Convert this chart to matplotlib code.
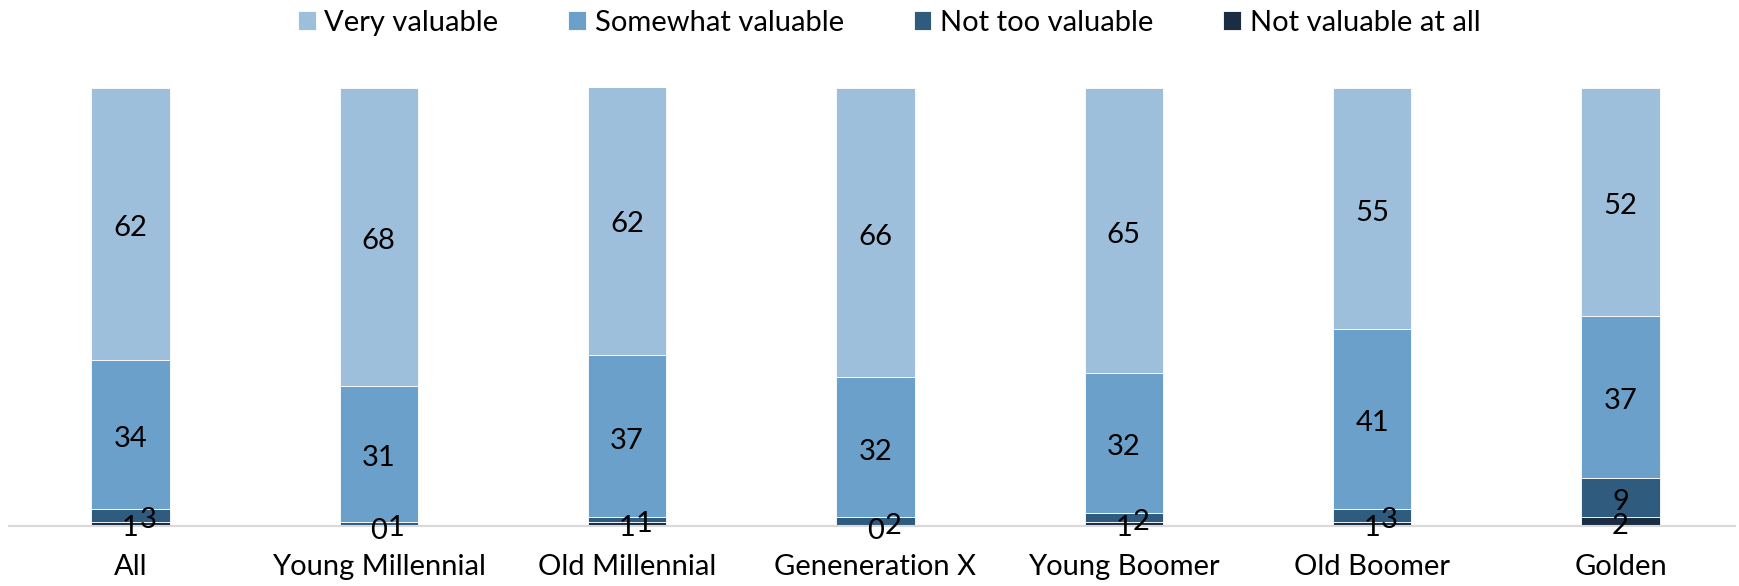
import matplotlib.pyplot as plt
import numpy as np

plt.rcParams['font.family'] = ['Lato', 'DejaVu Sans']

groups = ["All", "Young Millennial", "Old Millennial", "Geneneration X",
          "Young Boomer", "Old Boomer", "Golden"]
not_at_all = [1, 0, 1, 0, 1, 1, 2]
not_too = [3, 1, 1, 2, 2, 3, 9]
somewhat = [34, 31, 37, 32, 32, 41, 37]
very = [62, 68, 62, 66, 65, 55, 52]

series = [
    ("Not valuable at all", not_at_all, "#1B2D42"),
    ("Not too valuable", not_too, "#2F5B7E"),
    ("Somewhat valuable", somewhat, "#6AA0CA"),
    ("Very valuable", very, "#9DBFDC"),
]

fig = plt.figure(figsize=(17.4, 5.86), dpi=100)
ax = fig.add_axes([0.005, 0.102, 0.992, 0.748])

x = np.arange(len(groups))
bottom = np.zeros(len(groups))
bars = {}
for name, vals, col in series:
    vals = np.array(vals, dtype=float)
    bars[name] = ax.bar(x, vals, 0.316, bottom=bottom, color=col,
                        edgecolor="white", linewidth=0.6, label=name)
    for i, v in enumerate(vals):
        yc = bottom[i] + v / 2 - 1.0
        dx = 0
        # small stacked segments: push the upper label right, like Excel does
        if name == "Not too valuable" and v < 5:
            dx = 0.07
        ax.text(x[i] + dx, yc, f"{int(v)}", ha="center", va="center",
                fontsize=21, color="black")
    bottom += vals

ax.set_xlim(-0.49, 6.46)
ax.set_ylim(0, 100)
ax.set_yticks([])
ax.set_xticks(x)
ax.set_xticklabels(groups, fontsize=21)
ax.tick_params(axis="x", length=0, pad=20)
for s in ["top", "right", "left"]:
    ax.spines[s].set_visible(False)
ax.spines["bottom"].set_color("#D9D9D9")
ax.spines["bottom"].set_linewidth(1.5)

labels = ["Very valuable", "Somewhat valuable", "Not too valuable",
          "Not valuable at all"]
handles = [bars[n] for n in labels]
fig.legend(handles, labels, loc="upper center", bbox_to_anchor=(0.511, 1.028),
           ncol=4, frameon=False, fontsize=21, handlelength=0.6,
           handleheight=0.6, handletextpad=0.3, columnspacing=2.4)

fig.savefig("out.png", dpi=100)
